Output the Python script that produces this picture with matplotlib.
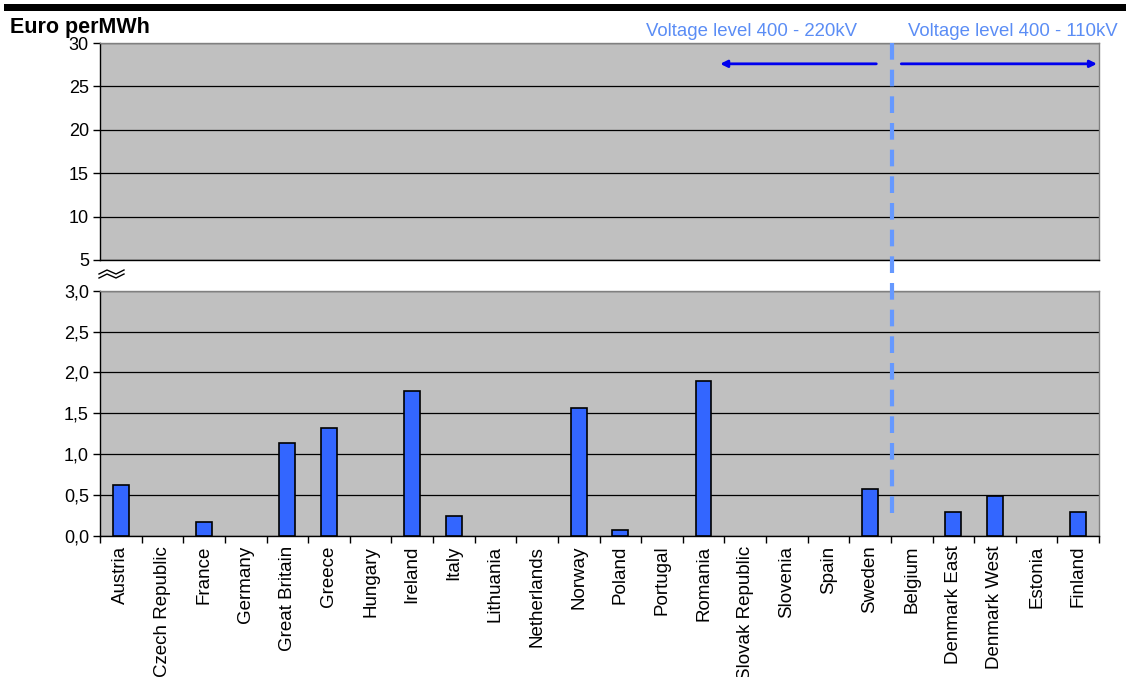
import numpy as np
import matplotlib
matplotlib.use("Agg")
import matplotlib.pyplot as plt
from matplotlib.lines import Line2D
from matplotlib.patches import Rectangle

plt.rcParams['font.family'] = ['Liberation Sans', 'DejaVu Sans']

countries = ["Austria", "Czech Republic", "France", "Germany", "Great Britain",
             "Greece", "Hungary", "Ireland", "Italy", "Lithuania", "Netherlands",
             "Norway", "Poland", "Portugal", "Romania", "Slovak Republic",
             "Slovenia", "Spain", "Sweden", "Belgium", "Denmark East",
             "Denmark West", "Estonia", "Finland"]
values = [0.62, 0.0, 0.17, 0.0, 1.14, 1.32, 0.0, 1.77, 0.25, 0.0, 0.0,
          1.56, 0.07, 0.0, 1.89, 0.0, 0.0, 0.0, 0.57, 0.0, 0.29, 0.49, 0.0, 0.29]
low_ticks = [0.0, 0.5, 1.0, 1.5, 2.0, 2.5, 3.0]
high_ticks = [5, 10, 15, 20, 25, 30]
split_after = "Sweden"   # last country of the 400 - 220kV group

W, H = 1126, 677
fig = plt.figure(figsize=(W / 100, H / 100), dpi=100)


def px(x0, y0, x1, y1):
    # pixel box (top-left origin) -> figure fraction rect
    return [x0 / W, 1 - y1 / H, (x1 - x0) / W, (y1 - y0) / H]


bg = '#C0C0C0'
bar_col = '#3366FF'
n = len(countries)
x = np.arange(n)

ax_hi = fig.add_axes(px(100, 43, 1099, 260))
ax_lo = fig.add_axes(px(100, 290.7, 1099, 536))

for ax in (ax_hi, ax_lo):
    ax.set_facecolor(bg)
    ax.set_xlim(-0.5, n - 0.5)
    ax.set_axisbelow(True)
    ax.yaxis.grid(True, color='black', lw=0.9)
    ax.spines['left'].set_color('black')
    ax.spines['bottom'].set_color('black')
    ax.spines['top'].set_color('#808080')
    ax.spines['right'].set_color('#808080')
    for s in ax.spines.values():
        s.set_linewidth(1.0)
    ax.tick_params(axis='y', direction='out', length=5, width=1, labelsize=13, pad=3)

# upper (broken) part
ax_hi.set_ylim(5, 30)
ax_hi.set_yticks(high_ticks)
ax_hi.set_yticklabels([str(v) for v in high_ticks])
ax_hi.set_xticks([])

# lower part
ax_lo.set_ylim(0, 3.0)
ax_lo.set_yticks(low_ticks)
ax_lo.set_yticklabels([f"{v:.1f}".replace('.', ',') for v in low_ticks])
bars = ax_lo.bar(x, values, width=0.38, color=bar_col, edgecolor='black', lw=1.2, zorder=3)
for b, v in zip(bars, values):
    if v == 0:
        b.set_visible(False)
ax_lo.set_xticks(np.arange(n + 1) - 0.5)
ax_lo.set_xticklabels([])
ax_lo.tick_params(axis='x', which='major', direction='out', length=5, width=1)
ax_lo.set_xticks(x, minor=True)
ax_lo.set_xticklabels(countries, minor=True, rotation=90, fontsize=13.5, va='top')
ax_lo.tick_params(axis='x', which='minor', length=0, pad=7)

# dashed separator between voltage groups
sx = countries.index(split_after) + 0.5
xs = ax_lo.transData.transform((sx, 0))[0] / W + 1.5 / W
fig.add_artist(Line2D([xs, xs], [1 - 43 / H, 1 - 522 / H], color='#6699FF',
                      lw=3, ls=(0, (4, 2.4))))

# arrows
ax_hi.annotate('', xy=(14.4, 27.6), xytext=(18.15, 27.6),
               arrowprops=dict(arrowstyle='-|>', color='#0000EE', lw=2,
                               mutation_scale=10, shrinkA=0, shrinkB=0))
ax_hi.annotate('', xy=(23.45, 27.6), xytext=(18.75, 27.6),
               arrowprops=dict(arrowstyle='-|>', color='#0000EE', lw=2,
                               mutation_scale=10, shrinkA=0, shrinkB=0))

fig.text(857 / W, 1 - 32 / H, "Voltage level 400 - 220kV", color='#5B8DF5',
         fontsize=13.4, ha='right', va='center')
fig.text(908 / W, 1 - 32 / H, "Voltage level 400 - 110kV", color='#5B8DF5',
         fontsize=13.4, ha='left', va='center')

fig.text(10 / W, 1 - 27 / H, "Euro perMWh", fontsize=15.5, fontweight='bold',
         ha='left', va='center')

# top black rule
fig.add_artist(Rectangle((4 / W, 1 - 11 / H), 1 - 4 / W, 7 / H,
                         transform=fig.transFigure, color='black', lw=0))

# axis break mark
zx = np.array([99, 107, 116, 124]) / W
for off in (0, 4):
    zy = 1 - (np.array([274, 270, 274, 270]) + off) / H
    fig.add_artist(Line2D(zx, zy, color='black', lw=1))

fig.savefig("out.png", dpi=100)
